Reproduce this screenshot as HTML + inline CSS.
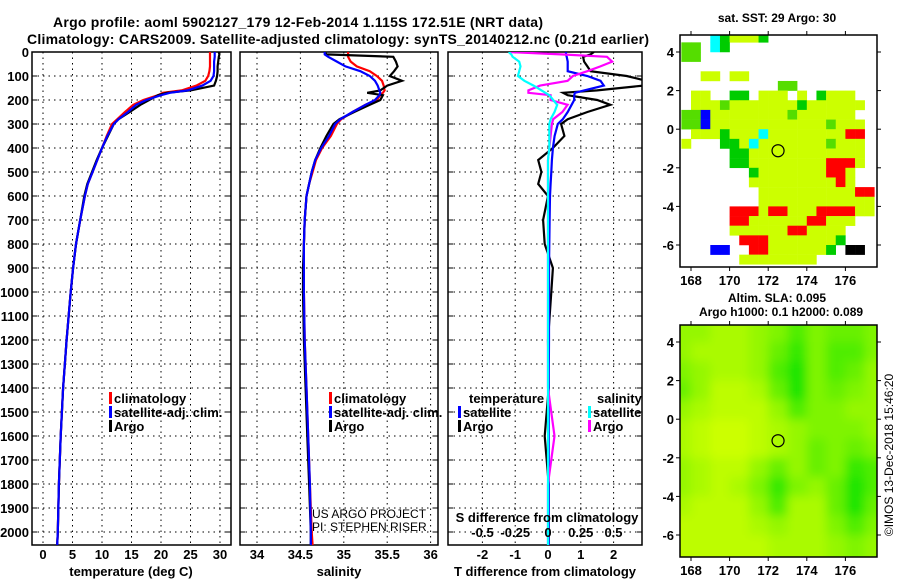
<!DOCTYPE html>
<html><head><meta charset="utf-8"><style>
html,body{margin:0;padding:0;background:#fff;}
svg{display:block;font-family:"Liberation Sans",Arial,sans-serif;}
.b{font-weight:bold;}
</style></head><body>
<svg id="fig" width="900" height="580" viewBox="0 0 900 580">
<text x="298" y="27" text-anchor="middle" class="b" font-size="14" textLength="490">Argo profile: aoml 5902127_179 12-Feb-2014 1.115S 172.51E (NRT data)</text>
<text x="338" y="44" text-anchor="middle" class="b" font-size="14" textLength="622">Climatology: CARS2009. Satellite-adjusted climatology: synTS_20140212.nc (0.21d earlier)</text>
<text x="777" y="22" text-anchor="middle" class="b" font-size="12">sat. SST: 29 Argo: 30</text>
<text x="777" y="302" text-anchor="middle" class="b" font-size="12">Altim. SLA: 0.095</text>
<text x="781" y="316" text-anchor="middle" class="b" font-size="12">Argo h1000: 0.1 h2000: 0.089</text>
<text transform="translate(893,455) rotate(-90)" text-anchor="middle" font-size="12">©IMOS 13-Dec-2018 15:46:20</text>
<g id="g"></g>
</svg>
<script>
const depth = [0,10,20,40,60,80,100,120,140,160,170,180,200,220,250,280,300,350,400,450,500,550,600,700,800,900,1000,1200,1400,1600,1800,2000,2055];
const tempArgo = [29.8,29.9,29.8,29.7,29.6,29.6,29.5,29.3,29.0,25,21,19.5,18,16.5,14.7,12.8,12,11,10,9.1,8.3,7.5,7,6.3,5.6,5.1,4.7,4.0,3.4,3.0,2.7,2.5,2.4];
const tempClim = [28.3,28.3,28.3,28.3,28.3,28.2,28.0,27.5,26.0,23.5,20.3,19.5,17,15.3,13.9,12.6,11.7,10.8,10,9.2,8.4,7.6,7.1,6.3,5.6,5.1,4.7,4.0,3.4,3.0,2.7,2.5,2.4];
const tempSat = [29.1,29.1,29.1,29.0,29.0,29.0,28.9,28.4,27.0,24.5,21.5,20,17.5,15.8,14.4,12.8,12,10.9,10,9.2,8.4,7.6,7.1,6.3,5.6,5.1,4.7,4.0,3.4,3.0,2.7,2.5,2.4];
const salArgo = [34.78,34.8,35.57,35.6,35.62,35.58,35.53,35.67,35.5,35.42,35.27,35.45,35.42,35.3,35.12,34.95,34.88,34.8,34.73,34.67,34.63,34.6,34.57,34.55,34.54,34.53,34.53,34.54,34.56,34.58,34.6,34.62,34.62];
const salClim = [35.05,35.05,35.05,35.08,35.15,35.3,35.38,35.44,35.46,35.47,35.45,35.42,35.38,35.25,35.1,34.97,34.92,34.85,34.75,34.68,34.64,34.6,34.57,34.55,34.54,34.54,34.54,34.55,34.57,34.59,34.61,34.63,34.64];
const salSat = [34.78,34.78,34.82,34.92,35.02,35.19,35.3,35.36,35.39,35.41,35.42,35.41,35.36,35.25,35.1,34.96,34.9,34.83,34.74,34.67,34.63,34.6,34.57,34.55,34.54,34.54,34.54,34.55,34.57,34.59,34.61,34.62,34.62];
const dTArgo = [1.4,1.3,1.07,1.1,1.2,1.3,2.4,3.0,2.9,1.5,0.46,0.6,1.5,1.9,1.2,0.6,0.4,0.5,0.15,-0.3,-0.2,-0.3,0,-0.15,-0.1,0.15,0.1,0,0.02,-0.1,0.02,0.02,0.02];
const dTSat = [0.55,0.55,0.57,0.6,0.6,0.6,1.2,1.6,1.7,1.1,0.82,0.8,0.8,0.72,0.6,0.45,0.3,0.2,0.15,0.12,0.1,0.08,0.06,0.05,0.04,0.03,0.03,0.03,0.02,0.02,0.02,0.02,0.02];
const dSSat = [-0.3,-0.28,-0.27,-0.22,-0.21,-0.22,-0.23,-0.18,-0.11,-0.05,-0.02,0.01,0.04,0.07,0.05,0.02,0.01,0.01,0.01,0,0,0,0,0,0,0,0,0,0,0,0,0,0];
const dSArgo = [-0.3,0.1,0.45,0.49,0.4,0.3,0.19,0.15,-0.06,-0.15,-0.15,0.02,0.02,0.15,0.11,0.04,0.03,0.02,0.01,0,0,0,0,0,0,0,0,0,0,0.05,0,0,0];
const depthTicks = [0,100,200,300,400,500,600,700,800,900,1000,1100,1200,1300,1400,1500,1600,1700,1800,1900,2000];
const tempTicks = [0,5,10,15,20,25,30];
const salTicks = [34,34.5,35,35.5,36];
const tdTicks = [-2,-1,0,1,2];
const sdTicks = [-0.5,-0.25,0,0.25,0.5];
const lonTicks = [168,170,172,174,176];
const latTicks = [4,2,0,-2,-4,-6];
const sstRows = [
"...cGyyyG...........",
"gg.cG...............",
"gg..................",
"....................",
"..yy.yy.............",
"..........gg........",
".yy..GG.yyy.y.Gyyy..",
".yyygyyyyyyyGyyyyyy.",
"ggbyyyyyyyygyyyyyy..",
"ggbyyyyyyyyyyyygyyy.",
".yyyGyyycyyyyyyyyrr.",
"y...GGycyyyyyyygyyy.",
".....GGyyyyyyyyyyyy.",
".....GGyyyyyyyyrrry.",
".......Gyyyyyyyrry..",
".......yyyyyyyyyry..",
"........yyyyyyyyyyrr",
"........yyyyyyyyyyyy",
".....rrryrryyyrrrryy",
".....rryyyyyyrryyy..",
".....yyyyyyrryyyy...",
"......rrryyyyyyyG...",
"...bb..rryyyyyyG.kk.",
"......yyyyyyyy......"];
const slaRows = [
[3,3,2,2,3,4,6,4,5,5,4],
[3,2,2,2,3,5,7,4,6,6,4],
[4,3,2,2,3,6,8,4,6,5,3],
[5,3,1,1,2,5,8,4,5,4,3],
[3,2,1,1,1,3,6,4,4,3,3],
[2,1,0,0,1,2,3,4,4,4,3],
[2,1,0,0,1,2,3,5,4,5,4],
[3,2,1,1,3,5,3,5,4,7,6],
[3,2,1,2,4,7,4,3,5,8,6],
[2,1,1,1,3,6,2,2,5,8,5],
[1,1,1,1,2,3,2,2,4,6,4],
[1,1,1,1,1,2,2,2,3,4,3]];
const floatLon = 172.51, floatLat = -1.115;

const NS="http://www.w3.org/2000/svg";
const root=document.getElementById('g');
function mk(tag,attrs,parent){const e=document.createElementNS(NS,tag);for(const k in attrs)e.setAttribute(k,attrs[k]);(parent||root).appendChild(e);return e;}
const yD=d=>52+d*0.24;
const xT=v=>43+v*5.9;
const xS=v=>257+(v-34)*86.8;
const xTD=v=>548+v*32.8;
const xSD=v=>548+v*131;
const PB=545;
const panels=[{x0:32,x1:231,name:'temperature-panel'},{x0:240,x1:438,name:'salinity-panel'},{x0:448,x1:642,name:'difference-panel'}];
const defs=mk('defs',{});
const blur=mk('filter',{id:'blur',x:'-10%',y:'-10%',width:'120%',height:'120%'},defs);
mk('feGaussianBlur',{stdDeviation:5},blur);
panels.forEach((p,i)=>{
  const cp=mk('clipPath',{id:'cp'+i},defs);
  mk('rect',{x:p.x0,y:52,width:p.x1-p.x0,height:PB-52},cp);
});
function gridAndFrame(p,xs,xf,idx){
  const grp=mk('g',{});
  
  
  depthTicks.forEach(d=>{
    const l=mk('line',{x1:p.x0,x2:p.x1,y1:yD(d),y2:yD(d),stroke:'#000','stroke-width':1,'stroke-dasharray':'1.5 4'},grp);
    
    
    mk('line',{x1:p.x0,x2:p.x0+5,y1:yD(d),y2:yD(d),stroke:'#000'},grp);
    mk('line',{x1:p.x1-5,x2:p.x1,y1:yD(d),y2:yD(d),stroke:'#000'},grp);
  });
  xs.forEach(v=>{
    const l=mk('line',{x1:xf(v),x2:xf(v),y1:52,y2:PB,stroke:'#000','stroke-dasharray':'1.5 4'},grp);
    
    
  });
  const r=mk('rect',{x:p.x0,y:52,width:p.x1-p.x0,height:PB-52,fill:'none',stroke:'#000','stroke-width':1.5},grp);
  
  
  return grp;
}
function profile(vals,xf,color,idx,name,w){
  const pts=vals.map((v,i)=>xf(v).toFixed(1)+','+yD(depth[i]).toFixed(1)).join(' ');
  const pl=mk('polyline',{points:pts,fill:'none',stroke:color,'stroke-width':w||2.2,'clip-path':'url(#cp'+idx+')'});
  
  
}
function xLabels(ticks,xf,y,fmt){
  ticks.forEach(v=>{
    const t=mk('text',{x:xf(v),y:y,'text-anchor':'middle','font-size':13,'font-weight':'bold'});
    t.textContent=fmt?fmt(v):String(v);
    
    
  });
}
function txt(x,y,s,name,opts){
  const t=mk('text',Object.assign({x:x,y:y,'font-size':13,'font-weight':'bold'},opts||{}));
  t.textContent=s;
  
  
  return t;
}
gridAndFrame(panels[0],tempTicks,xT,0);
gridAndFrame(panels[1],salTicks,xS,1);
gridAndFrame(panels[2],tdTicks,xTD,2);
depthTicks.forEach(d=>{
  txt(29,yD(d)+5,String(d),'y-tick-label',{'text-anchor':'end'});
});
profile(tempClim,xT,'#ff0000',0,'temp-climatology-line');
profile(tempArgo,xT,'#000000',0,'temp-argo-line');
profile(tempSat,xT,'#0000ff',0,'temp-satellite-line');
profile(salClim,xS,'#ff0000',1,'sal-climatology-line');
profile(salArgo,xS,'#000000',1,'sal-argo-line');
profile(salSat,xS,'#0000ff',1,'sal-satellite-line');
profile(dTArgo,xTD,'#000000',2,'tdiff-argo-line');
profile(dTSat,xTD,'#0000ff',2,'tdiff-satellite-line');
profile(dSArgo,xSD,'#ff00ff',2,'sdiff-argo-line');
profile(dSSat,xSD,'#00ffff',2,'sdiff-satellite-line');
xLabels(tempTicks,xT,559);
xLabels(salTicks,xS,559);
xLabels(tdTicks,xTD,559);
xLabels(sdTicks,xSD,537);
txt(131,576,'temperature (deg C)','temperature-axis-title',{'text-anchor':'middle'});
txt(339,576,'salinity','salinity-axis-title',{'text-anchor':'middle'});
txt(545,576,'T difference from climatology','tdiff-axis-title',{'text-anchor':'middle'});
txt(547,522,'S difference from climatology','sdiff-axis-title',{'text-anchor':'middle'});
function legItem(x,y,color,label,name){
  const bar=mk('rect',{x:x,y:y-11,width:3,height:12,fill:color});
  
  
  txt(x+5,y,label,name);
}
legItem(109,403,'#ff0000','climatology','legend-climatology');
legItem(109,417,'#0000ff','satellite-adj. clim.','legend-satellite');
legItem(109,431,'#000000','Argo','legend-argo');
legItem(329,403,'#ff0000','climatology','legend2-climatology');
legItem(329,417,'#0000ff','satellite-adj. clim.','legend2-satellite');
legItem(329,431,'#000000','Argo','legend2-argo');
txt(469,403,'temperature','legend-temperature-header');
txt(597,403,'salinity','legend-salinity-header');
legItem(458,417,'#0000ff','satellite','legend-tdiff-satellite');
legItem(458,431,'#000000','Argo','legend-tdiff-argo');
legItem(588,417,'#00ffff','satellite','legend-sdiff-satellite');
legItem(588,431,'#ff00ff','Argo','legend-sdiff-argo');
const cred=mk('g',{'clip-path':'url(#cp1)'});


const c1=mk('text',{x:312,y:518,'font-size':12},cred);c1.textContent='US ARGO PROJECT';
const c2=mk('text',{x:312,y:531,'font-size':12},cred);c2.textContent='PI: STEPHEN RISER';
const MX0=680,MX1=877;
const lonX=l=>691+(l-168)*19.3;
function map(y0,y1,lat4y,name,cellsFn){
  const id='mc'+name;
  const cp=mk('clipPath',{id:id},defs);
  mk('rect',{x:MX0,y:y0,width:MX1-MX0,height:y1-y0},cp);
  const latY=l=>lat4y+(4-l)*19.3;
  const outer=mk('g',{'clip-path':'url(#'+id+')'});
  const grp=mk('g',{},outer);
  
  
  cellsFn(grp,latY);
  const c=mk('circle',{cx:lonX(floatLon),cy:latY(floatLat),r:6,fill:'none',stroke:'#000','stroke-width':1.2});
  
  
  const fr=mk('rect',{x:MX0,y:y0,width:MX1-MX0,height:y1-y0,fill:'none',stroke:'#000','stroke-width':1.5});
  
  
  lonTicks.forEach(l=>{
    mk('line',{x1:lonX(l),x2:lonX(l),y1:y0-4,y2:y0,stroke:'#000'});
    mk('line',{x1:lonX(l),x2:lonX(l),y1:y1,y2:y1+4,stroke:'#000'});
    txt(lonX(l),y1+18,String(l),'lon-tick-label',{'text-anchor':'middle'});
  });
  latTicks.forEach(l=>{
    mk('line',{x1:MX0-4,x2:MX0,y1:latY(l),y2:latY(l),stroke:'#000'});
    mk('line',{x1:MX1,x2:MX1+4,y1:latY(l),y2:latY(l),stroke:'#000'});
    txt(674,latY(l)+5,String(l),'lat-tick-label',{'text-anchor':'end'});
  });
}
const sstCol={y:'#ccff00',g:'#55dd00',G:'#00cc00',r:'#ff0000',b:'#0000ff',c:'#00ffff',k:'#000000'};
map(35,267,52,'sst-map',(grp,latY)=>{
  sstRows.forEach((row,ri)=>{
    const lat=5-ri*0.5;
    [...row].forEach((ch,ci)=>{
      if(ch==='.')return;
      const lon=167.5+ci*0.5;
      const r=mk('rect',{x:lonX(lon),y:latY(lat),width:9.9,height:9.9,fill:sstCol[ch]},grp);
      
      
    });
  });
});
map(325,557,342,'sla-map',(grp,latY)=>{
  grp.setAttribute('filter','url(#blur)');
  mk('rect',{x:660,y:310,width:240,height:270,fill:'#aaf500'},grp);
  slaRows.forEach((row,ri)=>{
    const lat=5-ri;
    row.forEach((v,ci)=>{
      const lon=167+ci;
      const f=Math.pow(v/9,1.2);
      const rr=Math.round(204*(1-f)), gg=Math.round(255-30*f);
      const x0=ci===0?660:lonX(lon), x1=ci===row.length-1?900:lonX(lon+1);
      const y0=ri===0?310:latY(lat), y1=ri===slaRows.length-1?580:latY(lat-1);
      const r=mk('rect',{x:x0,y:y0,width:x1-x0+0.5,height:y1-y0+0.5,fill:'rgb('+rr+','+gg+',0)'},grp);
      
      
    });
  });
});
</script>
</body></html>
